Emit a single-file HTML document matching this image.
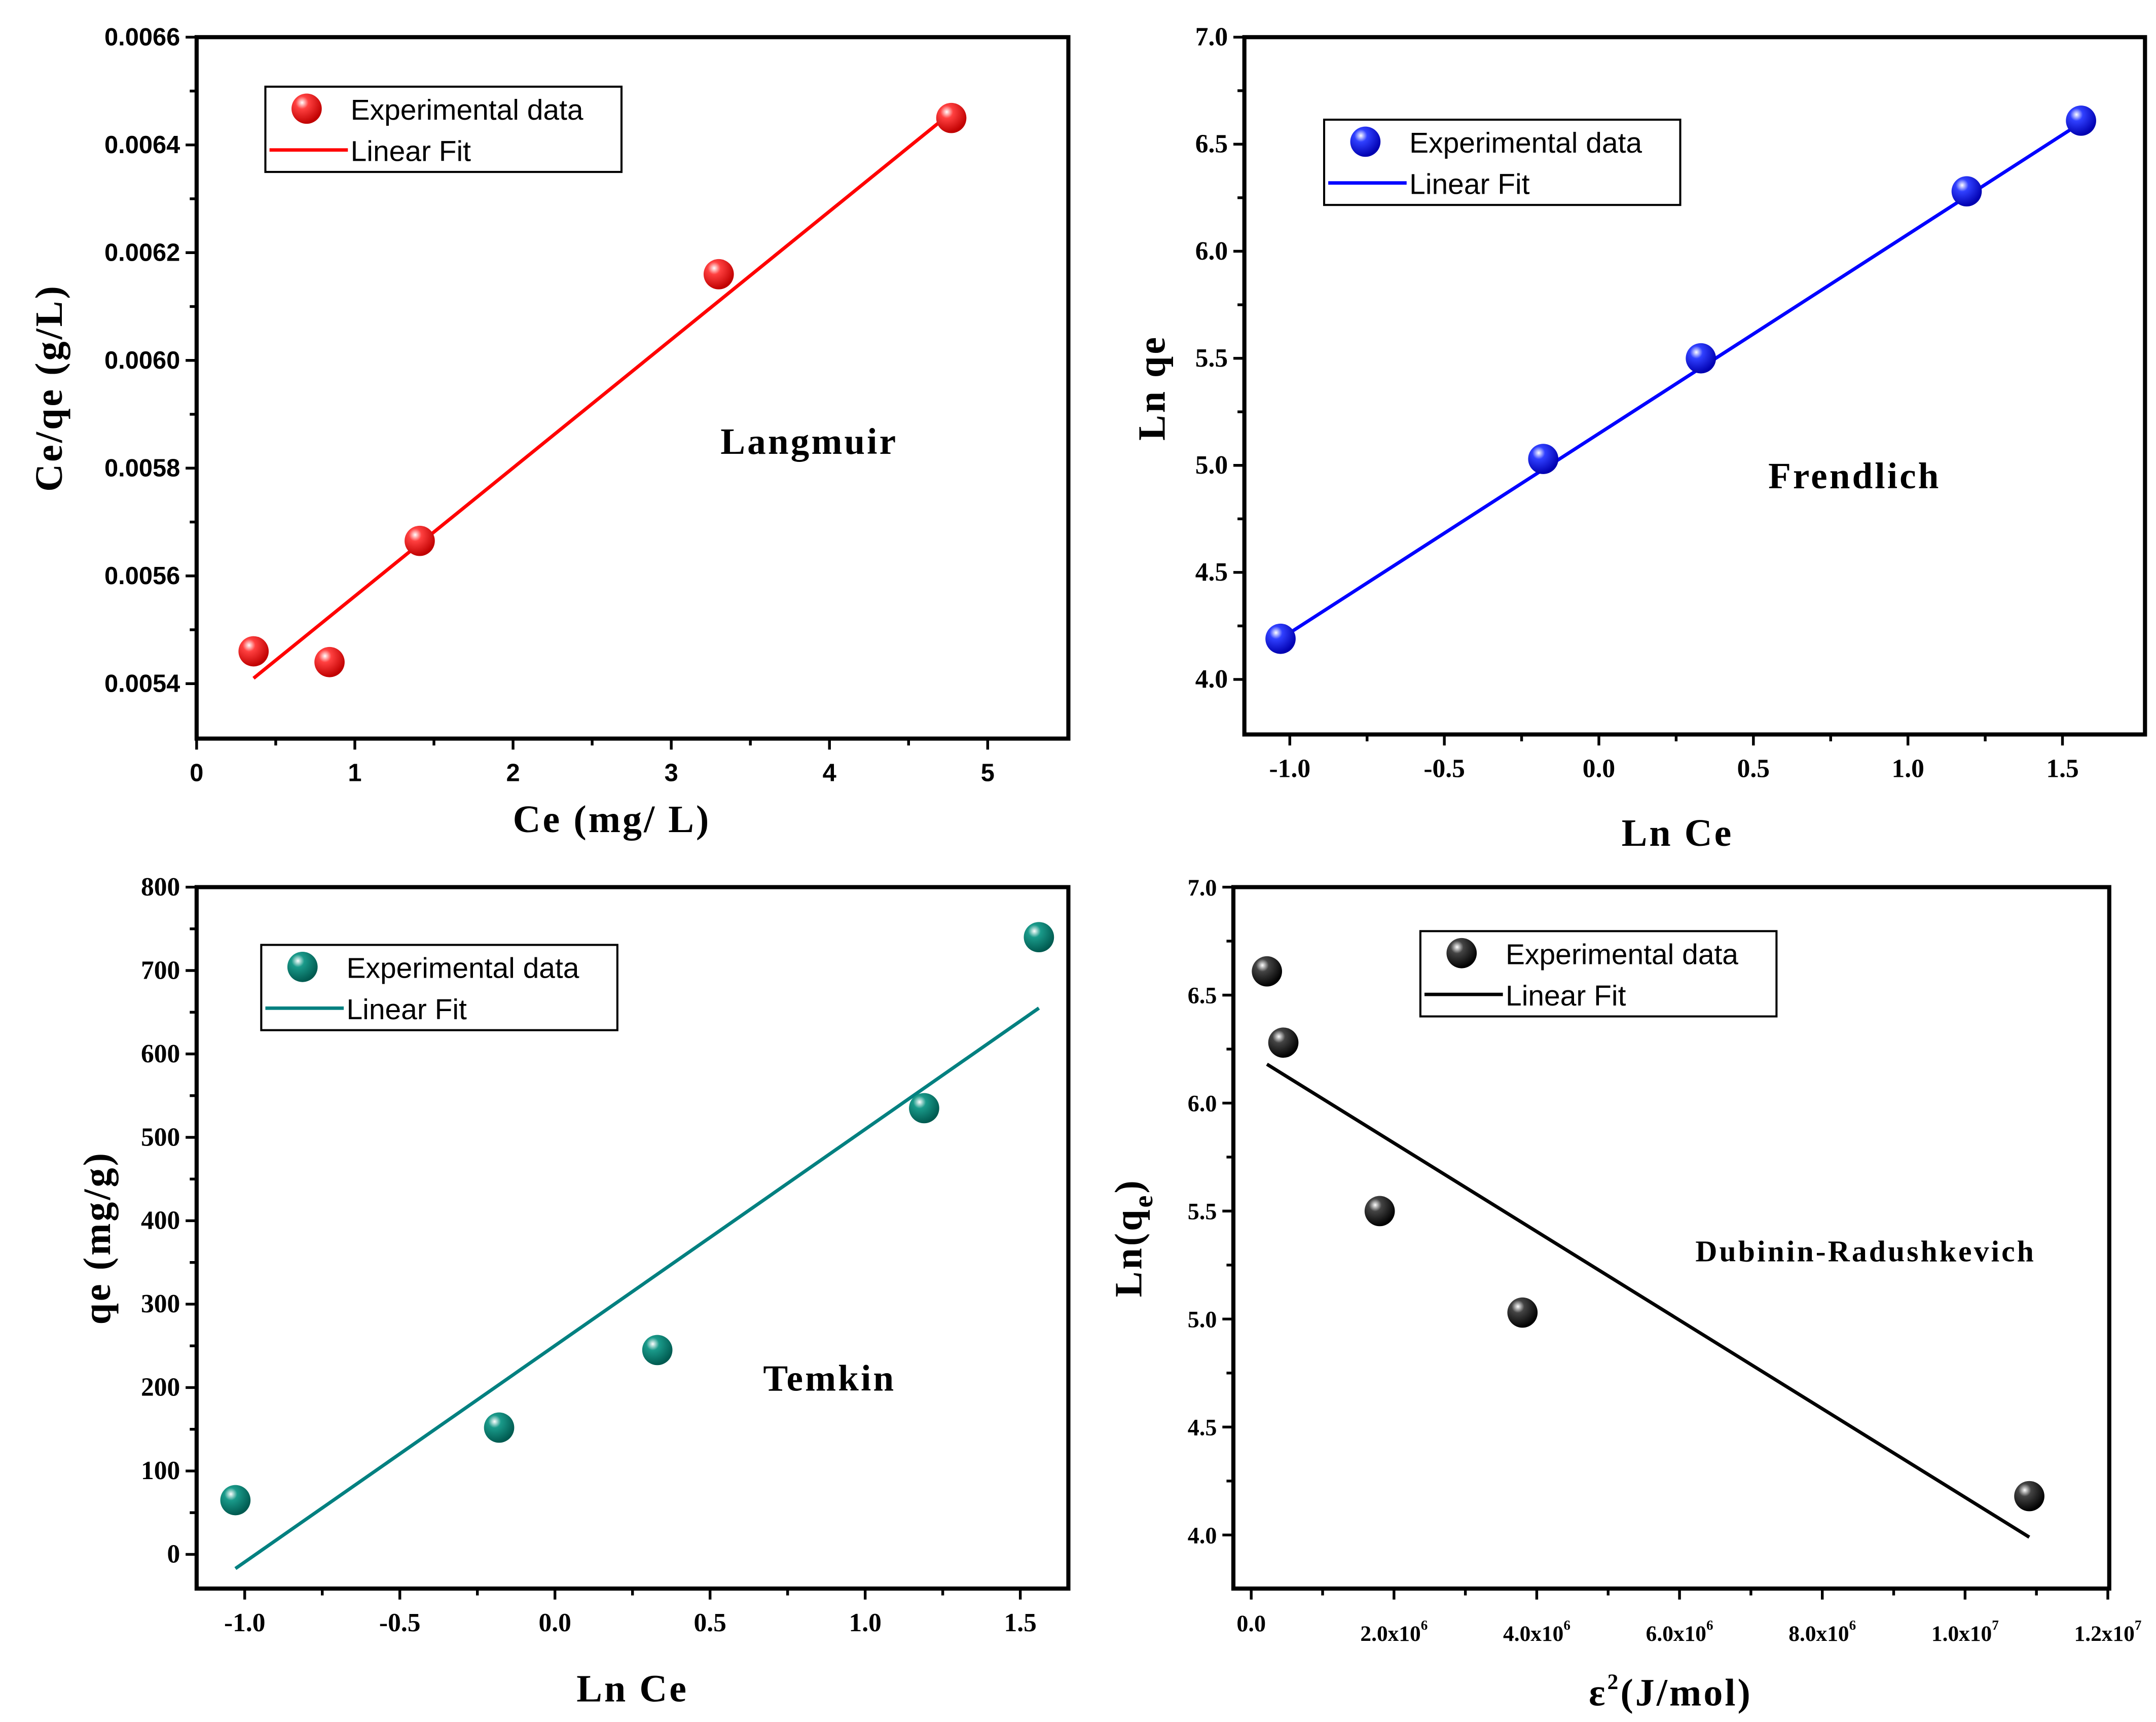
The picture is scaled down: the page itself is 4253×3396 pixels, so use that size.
<!DOCTYPE html>
<html><head><meta charset="utf-8"><style>html,body{margin:0;padding:0;background:#fff}svg{display:block}</style></head>
<body>
<svg id="fig" xmlns="http://www.w3.org/2000/svg" width="4253" height="3396" viewBox="0 0 1568 1252">
<defs>
<radialGradient id="gr" cx="0.35" cy="0.3" r="0.7"><stop offset="0" stop-color="#fff"/><stop offset="0.3" stop-color="#ff4040"/><stop offset="1" stop-color="#c00000"/></radialGradient>
<radialGradient id="gb" cx="0.35" cy="0.3" r="0.7"><stop offset="0" stop-color="#fff"/><stop offset="0.3" stop-color="#3040ff"/><stop offset="1" stop-color="#0000b0"/></radialGradient>
<radialGradient id="gt" cx="0.35" cy="0.3" r="0.7"><stop offset="0" stop-color="#fff"/><stop offset="0.3" stop-color="#1a9a8a"/><stop offset="1" stop-color="#005a50"/></radialGradient>
<radialGradient id="gk" cx="0.35" cy="0.3" r="0.7"><stop offset="0" stop-color="#fff"/><stop offset="0.3" stop-color="#444"/><stop offset="1" stop-color="#000"/></radialGradient>
</defs>
</svg>
<script>
// Langmuir
const lX=[0.36,0.84,1.41,3.30,4.77];
const lY=[0.00546,0.00544,0.005665,0.00616,0.00645];
const lFitX=[0.36,4.77];
const lFitY=[0.00541,0.00646];
const lXT=[0,1,2,3,4,5];
const lYT=[0.0054,0.0056,0.0058,0.0060,0.0062,0.0064,0.0066];
// Freundlich
const fX=[-1.03,-0.18,0.33,1.19,1.56];
const fY=[4.19,5.03,5.50,6.28,6.61];
const fFitX=[-1.03,1.56];
const fFitY=[4.19,6.60];
const fXT=[-1.0,-0.5,0.0,0.5,1.0,1.5];
const fYT=[4.0,4.5,5.0,5.5,6.0,6.5,7.0];
// Temkin
const tX=[-1.03,-0.18,0.33,1.19,1.56];
const tY=[65,152,245,535,740];
const tFitX=[-1.03,1.56];
const tFitY=[-17,655];
const tXT=[-1.0,-0.5,0.0,0.5,1.0,1.5];
const tYT=[0,100,200,300,400,500,600,700,800];
// Dubinin-Radushkevich
const dX=[0.22e6,0.45e6,1.8e6,3.8e6,10.9e6];
const dY=[6.61,6.28,5.50,5.03,4.18];
const dFitX=[0.22e6,10.9e6];
const dFitY=[6.18,3.99];
const dXT=[0,2e6,4e6,6e6,8e6,1e7,1.2e7];
const dYT=[4.0,4.5,5.0,5.5,6.0,6.5,7.0];

const NS='http://www.w3.org/2000/svg';
const svg=document.getElementById('fig');
function mk(tag,attrs,parent,text){const e=document.createElementNS(NS,tag);for(const k in attrs)e.setAttribute(k,attrs[k]);if(text!==undefined)e.textContent=text;(parent||svg).appendChild(e);return e;}

function panel(cfg){
  const g=mk('g',{});
  
  
  const sx=v=>cfg.x0+(v-cfg.xmin)/(cfg.xmax-cfg.xmin)*(cfg.x1-cfg.x0);
  const sy=v=>cfg.y1-(v-cfg.ymin)/(cfg.ymax-cfg.ymin)*(cfg.y1-cfg.y0);
  const frame=mk('rect',{x:cfg.x0,y:cfg.y0,width:cfg.x1-cfg.x0,height:cfg.y1-cfg.y0,fill:'none',stroke:'#000','stroke-width':3},g);
  
  
  // x ticks
  cfg.xt.forEach((v,i)=>{
    const x=sx(v);
    mk('line',{x1:x,y1:cfg.y1,x2:x,y2:cfg.y1+8,stroke:'#000','stroke-width':2},g);
    if(i<cfg.xt.length-1){const xm=sx((v+cfg.xt[i+1])/2);mk('line',{x1:xm,y1:cfg.y1,x2:xm,y2:cfg.y1+5,stroke:'#000','stroke-width':2},g);}
    const t=mk('text',{x:x,y:cfg.y1+31,'text-anchor':'middle','font-family':cfg.tf,'font-weight':'bold','font-size':cfg.ts},g,cfg.xl(v));
    
    
  });
  cfg.yt.forEach((v,i)=>{
    const y=sy(v);
    mk('line',{x1:cfg.x0-8,y1:y,x2:cfg.x0,y2:y,stroke:'#000','stroke-width':2},g);
    if(i<cfg.yt.length-1){const ym=sy((v+cfg.yt[i+1])/2);mk('line',{x1:cfg.x0-5,y1:ym,x2:cfg.x0,y2:ym,stroke:'#000','stroke-width':2},g);}
    const t=mk('text',{x:cfg.x0-12,y:y+6,'text-anchor':'end','font-family':cfg.tf,'font-weight':'bold','font-size':cfg.ts},g,cfg.yl(v));
    
    
  });
  const fit=mk('line',{x1:sx(cfg.fx[0]),y1:sy(cfg.fy[0]),x2:sx(cfg.fx[1]),y2:sy(cfg.fy[1]),stroke:cfg.color,'stroke-width':2.5},g);
  
  
  cfg.px.forEach((v,i)=>{
    const c=mk('circle',{cx:sx(v),cy:sy(cfg.py[i]),r:11,fill:'url(#'+cfg.grad+')'},g);
    
    
  });
  // legend
  const L=cfg.leg;
  const lg=mk('g',{},g);
  
  
  mk('rect',{x:L[0],y:L[1],width:259,height:62,fill:'#fff',stroke:'#000','stroke-width':1.5},lg);
  mk('circle',{cx:L[0]+30,cy:L[1]+16,r:11,fill:'url(#'+cfg.grad+')'},lg);
  mk('line',{x1:L[0]+3,y1:L[1]+46,x2:L[0]+60,y2:L[1]+46,stroke:cfg.color,'stroke-width':2.5},lg);
  mk('text',{x:L[0]+62,y:L[1]+24,'font-family':'Liberation Sans, sans-serif','font-size':21},lg,'Experimental data');
  mk('text',{x:L[0]+62,y:L[1]+54,'font-family':'Liberation Sans, sans-serif','font-size':21},lg,'Linear Fit');
  const nm=mk('text',{x:cfg.lab[0],y:cfg.lab[1],'font-family':'Liberation Serif, serif','font-weight':'bold','font-size':cfg.labSize||27,'letter-spacing':cfg.labLs||1.5},g,cfg.label);
  
  
  const xt=mk('text',{x:cfg.xa[0],y:cfg.xa[1],'text-anchor':'middle','font-family':'Liberation Serif, serif','font-weight':'bold','font-size':28,'letter-spacing':1.5},g);
  xt.innerHTML=cfg.xtitle;
  
  
  const yt=mk('text',{x:0,y:0,transform:'translate('+cfg.ya[0]+','+cfg.ya[1]+') rotate(-90)','text-anchor':'middle','font-family':'Liberation Serif, serif','font-weight':'bold','font-size':28,'letter-spacing':1.5},g);
  yt.innerHTML=cfg.ytitle;
  
  
}
const serif='Liberation Serif, serif', sans='Liberation Sans, sans-serif';
panel({name:'langmuir-panel',x0:143,x1:777,y0:27,y1:537,xmin:0,xmax:5.51,ymin:0.005298,ymax:0.0066,
  xt:lXT,yt:lYT,xl:v=>String(v),yl:v=>v.toFixed(4),tf:sans,ts:18,fx:lFitX,fy:lFitY,px:lX,py:lY,color:'#ff0000',grad:'gr',
  leg:[193,63],label:'Langmuir',lab:[524,330],xa:[445,605],xtitle:'Ce (mg/ L)',ya:[45,282],ytitle:'Ce/qe (g/L)'});
panel({name:'freundlich-panel',x0:905,x1:1560,y0:27,y1:534,xmin:-1.147,xmax:1.767,ymin:3.743,ymax:7.0,
  xt:fXT,yt:fYT,xl:v=>v.toFixed(1),yl:v=>v.toFixed(1),tf:serif,ts:19,fx:fFitX,fy:fFitY,px:fX,py:fY,color:'#0000ff',grad:'gb',
  leg:[963,87],label:'Frendlich',lab:[1286,355],xa:[1220,615],xtitle:'Ln Ce',ya:[847,282],ytitle:'Ln qe'});
panel({name:'temkin-panel',x0:143,x1:777,y0:645,y1:1155,xmin:-1.155,xmax:1.655,ymin:-41,ymax:800,
  xt:tXT,yt:tYT,xl:v=>v.toFixed(1),yl:v=>String(v),tf:serif,ts:19,fx:tFitX,fy:tFitY,px:tX,py:tY,color:'#008080',grad:'gt',
  leg:[190,687],label:'Temkin',lab:[555,1011],xa:[460,1237],xtitle:'Ln Ce',ya:[80,900],ytitle:'qe (mg/g)'});
panel({name:'dubinin-radushkevich-panel',x0:897,x1:1534,y0:645,y1:1155,xmin:-0.25e6,xmax:12.02e6,ymin:3.752,ymax:7.0,
  xt:dXT,yt:dYT,xl:v=>v===0?'0.0':'',yl:v=>v.toFixed(1),tf:serif,ts:17,fx:dFitX,fy:dFitY,px:dX,py:dY,color:'#000',grad:'gk',
  leg:[1033,677],label:'Dubinin-Radushkevich',lab:[1233,917],labSize:22,labLs:0,xa:[1215,1240],xtitle:'ε<tspan font-size="16" dy="-12">2</tspan><tspan dy="12">(J/mol)</tspan>',ya:[830,900],ytitle:'Ln(q<tspan font-size="20" dy="8">e</tspan><tspan dy="-8">)</tspan>'});
// D-R scientific tick labels
[[2,'2.0x10','6'],[4,'4.0x10','6'],[6,'6.0x10','6'],[8,'8.0x10','6'],[10,'1.0x10','7'],[12,'1.2x10','7']].forEach(a=>{
  const x=897+(a[0]*1e6+0.25e6)/12.27e6*637;
  const t=mk('text',{x:x,y:1193,'text-anchor':'middle','font-family':serif,'font-weight':'bold','font-size':16});
  t.innerHTML=a[1]+'<tspan font-size="10" dy="-8">'+a[2]+'</tspan>';
  
  
});
</script>
</body></html>
